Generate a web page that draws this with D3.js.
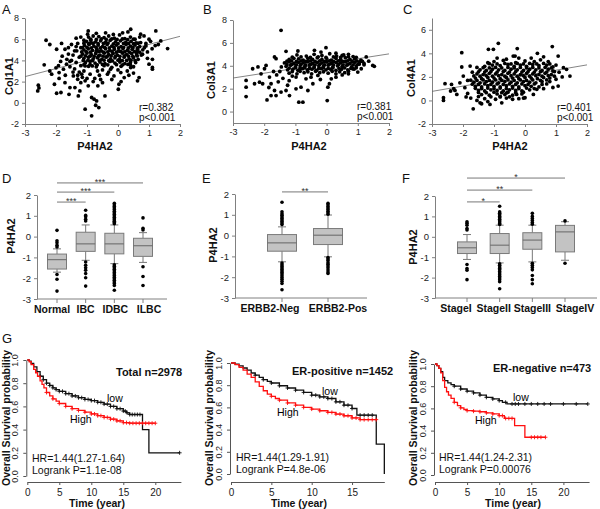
<!DOCTYPE html>
<html><head><meta charset="utf-8">
<script src="https://cdn.jsdelivr.net/npm/d3@7"></script>
<style>body{margin:0;background:#fff}svg{display:block}text{font-family:'Liberation Sans',Arial,Helvetica,sans-serif}</style>
</head><body><script>
// ---------------- DATA ----------------
const scatterXTicks = [-3,-2,-1,0,1,2];
const yTicksA = [-2,0,2,4,6,8];
const yTicksB = [0,2,4,6,8];
const yTicksC = [-2,0,2,4,6];
const fitA = [[-3,2.47],[2,6.27]];
const fitB = [[-3,2.93],[2,5.04]];
const fitC = [[-3,0.77],[2,3.02]];
const statsA = ["r=0.382","p<0.001"];
const statsB = ["r=0.381","p<0.001"];
const statsC = ["r=0.401","p<0.001"];

// Col1A1 vs P4HA2
const pointsA = [
[-2.57,1.66],[-2.59,1.12],[-2.55,1.4],[-2.32,5.9],[-2.2,5.5],[-2.38,3.58],[-2.14,2.7],[-2.05,1.75],[-1.98,0.9],[-1.84,0.97],
[-1.98,5.05],[-1.82,5.6],[-1.71,5.05],[-1.6,4.6],[-1.5,5.5],[-1.33,4.9],[-1.92,3.5],[-1.76,3.17],[-1.66,3.64],[-1.9,2.85],
[-1.71,1.9],[-1.55,1.44],[-1.58,0.8],[-1.39,1.44],[-1.28,0.65],[-1.23,1.12],[-1.44,2.54],[-1.3,2.22],[-1.17,2.7],[-1.06,2.07],
[-0.96,1.6],[-0.85,0.5],[-0.69,0.18],[-0.72,-0.23],[-0.42,0.65],[-1.06,-0.6],[-0.85,-1.23],[0.03,1.75],[0.01,1.28],[0.63,2.07],
[0.68,2.38],[1.22,6.78],[1.6,5.12],[1.38,5.84],[1.11,4.1],[1.11,3.33],[1.0,3.64],[1.11,3.17],[0.41,6.94],[0.32,6.69],
[0.73,6.47],[0.84,6.31],[-0.96,6.78],[-0.98,6.47],[0.73,5.68],[0.9,5.37],[0.63,5.05],[0.79,4.58],[0.57,3.8],[0.41,3.33],
[-0.56,2.2],[-0.34,2.7],[-0.13,2.54],[0.09,2.85],[0.2,2.38],[-0.24,3.17],[-0.66,3.0],[-0.83,3.48],[-1.06,3.48],[-0.62,-0.45],
[-2.0,3.3],[-1.85,3.9],[-1.65,4.1],[-1.55,3.4],[-1.7,2.6],[-1.9,2.3],[-2.2,3.0],[-1.5,4.0],[-1.35,3.8],[-1.25,4.3],
[-1.4,3.2],[-1.2,3.5],[-1.25,2.9],[-1.1,3.0],[-1.45,4.5],[-1.2,5.2],[-1.3,5.6],[-1.1,5.9],[-1.15,2.4],[-0.9,2.7],
[-0.75,2.3],[-0.6,2.6],[-0.5,3.1],[-0.3,2.9],[0.0,3.1],[0.3,3.0],[0.5,3.4],[0.65,4.1],[0.75,4.5],[0.8,5.0],
[0.9,5.6],[1.0,6.0],[0.7,6.2],[0.55,6.0],[0.95,4.2],[1.2,5.4],[1.3,5.5],[-0.77,0.34],
[-1.8,4.4],[-1.6,5.2],[-1.4,4.9],[-1.35,5.3],[-1.55,3.9],[-1.45,2.9],[-1.3,2.6],[-1.2,1.9],[-1.0,2.3],[-0.8,2.0],
[-0.65,1.6],[-0.5,1.9],[-0.2,2.2],[0.1,2.0],[0.35,2.6],[0.5,2.8],[0.4,3.6],[0.6,4.7],[0.85,5.2],[1.05,5.8],
[1.1,5.1],[0.95,4.8],[-1.2,6.2],[-1.35,6.1],[-0.7,6.55],[-0.4,6.6],[-0.15,6.45],[0.15,6.6],
[-0.95,6.2],[-0.8,6.3],[-0.62,6.25],[-0.45,6.15],[-0.3,6.3],[-0.12,6.1],[0.05,6.4],[0.22,6.05],[0.4,6.2],
[-1.02,5.8],[-0.88,5.9],[-0.72,5.75],[-0.56,5.85],[-0.4,5.7],[-0.25,5.9],[-0.08,5.75],[0.08,5.85],[0.25,5.7],[0.42,5.8],[0.58,5.65],
[-1.08,5.4],[-0.93,5.5],[-0.78,5.35],[-0.64,5.45],[-0.5,5.3],[-0.35,5.5],[-0.2,5.35],[-0.05,5.45],[0.1,5.3],[0.26,5.5],[0.4,5.35],[0.55,5.45],[0.7,5.3],
[-1.1,5.0],[-0.96,5.1],[-0.82,4.95],[-0.68,5.05],[-0.54,4.9],[-0.4,5.1],[-0.26,4.95],[-0.12,5.05],[0.02,4.9],[0.16,5.1],[0.3,4.95],[0.46,5.05],[0.62,4.9],
[-1.14,4.6],[-1.0,4.7],[-0.86,4.55],[-0.72,4.65],[-0.58,4.5],[-0.44,4.7],[-0.3,4.55],[-0.16,4.65],[-0.02,4.5],[0.14,4.7],[0.28,4.55],[0.44,4.65],[0.6,4.5],
[-1.1,4.2],[-0.95,4.3],[-0.8,4.15],[-0.66,4.25],[-0.52,4.1],[-0.38,4.3],[-0.24,4.15],[-0.1,4.25],[0.05,4.1],[0.2,4.3],[0.36,4.15],[0.5,4.25],
[-1.05,3.8],[-0.9,3.9],[-0.74,3.75],[-0.58,3.85],[-0.42,3.7],[-0.26,3.9],[-0.1,3.75],[0.06,3.85],[0.22,3.7],[0.4,3.8],
[-0.95,3.45],[-0.7,3.4],[-0.45,3.5],[-0.2,3.35],[0.1,3.45],
[-0.87,5.65],[-0.47,5.6],[-0.15,5.55],[0.18,5.6],[-0.7,4.85],[-0.33,4.8],[0.08,4.85],[-0.9,4.4],[-0.48,4.4],[-0.08,4.4],[0.34,4.4],[-0.6,4.0],[-0.18,3.95],[0.28,4.0],
[-0.88,6.0],[-0.7,5.98],[-0.54,6.02],[-0.38,5.97],[-0.2,6.03],[-0.03,5.98],[0.14,6.02],[0.31,5.96],[0.5,6.0],
[-1.1,5.62],[-0.95,5.58],[-0.8,5.62],[-0.64,5.57],[-0.32,5.63],[0.0,5.58],[0.34,5.6],[0.5,5.57],[0.65,5.62],
[-1.15,5.2],[-1.0,5.22],[-0.86,5.18],[-0.71,5.23],[-0.57,5.17],[-0.43,5.22],[-0.28,5.18],[-0.13,5.23],[0.02,5.17],[0.18,5.22],[0.33,5.18],[0.48,5.22],[0.63,5.17],
[-1.17,4.8],[-1.03,4.82],[-0.89,4.78],[-0.61,4.82],[-0.47,4.78],[-0.19,4.82],[-0.05,4.78],[0.22,4.8],[0.37,4.78],[0.53,4.82],[0.7,4.78],
[-1.2,4.4],[-1.05,4.42],[-0.77,4.38],[-0.63,4.42],[-0.35,4.38],[-0.22,4.42],[0.06,4.38],[0.2,4.42],[0.48,4.38],[0.62,4.42],
[-1.12,4.0],[-0.97,4.02],[-0.82,3.98],[-0.45,4.02],[-0.3,3.98],[0.0,4.02],[0.14,3.98],[0.42,4.02],[0.55,3.98],
[-1.1,3.6],[-0.9,3.62],[-0.67,3.58],[-0.5,3.62],[-0.33,3.58],[-0.05,3.6],[0.15,3.58],[0.32,3.62]
];

// Col3A1 vs P4HA2
const pointsB = [
[-1.46,7.1],[-2.58,2.72],[-2.58,2.13],[-2.58,1.31],[-2.37,3.74],[-2.31,2.43],[-2.15,2.57],[-2.05,2.43],[-1.91,1.02],[-1.78,1.4],
[-1.62,1.4],[-1.67,1.84],[-1.46,1.7],[-1.3,1.84],[-1.19,1.4],[-0.89,0.82],[-0.76,0.82],[0.02,0.96],[-1.78,2.43],[-1.83,3.01],
[-1.99,3.74],[-1.94,4.03],[-1.67,4.77],[-1.62,4.62],[-1.3,5.26],[-0.98,1.99],[-0.82,2.13],[-0.6,1.84],[-0.44,2.43],[0.09,2.43],
[0.04,2.13],[0.15,2.86],[-0.98,3.01],[-0.66,2.86],[-0.28,3.16],[1.48,4.03],[1.53,3.95],[1.27,4.77],[1.0,3.45],[0.84,3.74],
[1.11,3.74],[1.05,4.33],[-0.02,5.58],[-0.92,5.29],[-0.18,5.2],[-0.39,5.35],
[-1.5,3.5],[-1.6,3.2],[-1.4,2.9],[-1.45,3.9],[-1.55,2.6],[-1.2,2.7],[-1.1,3.1],[-1.25,2.3],[-0.5,3.0],[-0.2,2.8],
[0.3,3.0],[0.5,3.2],[0.7,3.3],[-1.7,3.5],[-2.1,3.3],[-2.2,3.9],[-1.85,2.1],[1.2,4.2],[1.35,4.4],[0.7,5.0],[0.3,5.1],[0.5,4.9],
[-0.95,4.95],[-0.65,4.85],[-0.4,5.0],[-0.15,4.9],[0.1,5.05],[0.32,4.85],[0.55,4.95],[0.85,4.8],
[-1.2,4.55],[-1.05,4.65],[-0.9,4.6],[-0.75,4.5],[-0.6,4.65],[-0.45,4.55],[-0.3,4.7],[-0.15,4.55],[0.0,4.65],[0.15,4.5],[0.3,4.65],[0.45,4.55],[0.6,4.7],[0.75,4.55],[0.9,4.6],[1.1,4.5],
[-1.35,4.25],[-1.2,4.35],[-1.05,4.2],[-0.9,4.3],[-0.75,4.25],[-0.6,4.35],[-0.45,4.2],[-0.3,4.3],[-0.15,4.25],[0.0,4.35],[0.15,4.2],[0.3,4.3],[0.45,4.25],[0.6,4.35],[0.75,4.2],[0.9,4.3],[1.05,4.15],
[-1.3,3.95],[-1.15,4.05],[-1.0,3.9],[-0.85,4.0],[-0.7,3.95],[-0.55,4.05],[-0.4,3.9],[-0.25,4.0],[-0.1,3.95],[0.05,4.05],[0.2,3.9],[0.35,4.0],[0.5,3.95],[0.65,4.05],[0.8,3.9],[0.95,4.0],
[-1.25,3.65],[-1.08,3.7],[-0.92,3.6],[-0.77,3.75],[-0.62,3.65],[-0.47,3.7],[-0.32,3.6],[-0.17,3.75],[-0.02,3.65],[0.13,3.7],[0.3,3.6],[0.48,3.7],[0.68,3.65],[0.88,3.7],
[-1.2,3.35],[-0.95,3.3],[-0.72,3.4],[-0.48,3.3],[-0.22,3.4],[0.05,3.35],[0.3,3.3],[0.58,3.4],
[-1.1,4.75],[-0.82,4.77],[-0.52,4.73],[-0.27,4.78],[-0.02,4.74],[0.22,4.77],[0.45,4.73],[0.7,4.78],[0.95,4.74],
[-1.27,4.4],[-1.12,4.42],[-0.97,4.38],[-0.82,4.42],[-0.67,4.38],[-0.52,4.42],[-0.37,4.38],[-0.22,4.42],[-0.07,4.38],[0.08,4.42],[0.22,4.38],[0.37,4.42],[0.52,4.38],[0.67,4.42],[0.82,4.38],[0.97,4.42],[1.15,4.38],
[-1.27,4.1],[-1.12,4.12],[-0.97,4.08],[-0.82,4.12],[-0.67,4.08],[-0.52,4.12],[-0.37,4.08],[-0.22,4.12],[-0.07,4.08],[0.08,4.12],[0.22,4.08],[0.38,4.12],[0.53,4.08],[0.68,4.12],[0.85,4.08],[1.0,4.12],[1.2,4.08],
[-1.2,3.8],[-1.0,3.82],[-0.85,3.78],[-0.7,3.82],[-0.55,3.78],[-0.4,3.82],[-0.25,3.78],[-0.1,3.82],[0.05,3.78],[0.2,3.82],[0.4,3.78],[0.58,3.82],[0.78,3.78],[0.95,3.82],
[-1.1,3.5],[-0.85,3.52],[-0.6,3.48],[-0.35,3.52],[-0.1,3.48],[0.18,3.52],[0.42,3.48],[0.7,3.52]
];

// Col4A1 vs P4HA2
const pointsC = [
[-2.58,1.42],[-2.63,0.23],[-2.37,1.36],[-2.26,0.85],[-2.2,0.51],[-1.94,1.08],[-2.04,4.06],[-2.04,2.84],[-1.77,2.92],[-1.99,2.07],
[-1.67,-0.71],[-1.45,-0.2],[-1.4,-0.28],[-1.13,-0.34],[-1.18,4.34],[-1.02,4.34],[-0.86,4.85],[-0.25,4.4],[-0.38,3.77],[-0.32,3.77],
[0.88,4.57],[1.07,3.77],[1.34,2.64],[1.45,2.07],[1.07,1.22],[1.24,2.78],[0.27,0.51],[0.0,0.23],[0.38,0.94],[-0.27,0.51],[-0.59,0.65],
[-2.63,0.0],[-2.4,0.8],[-2.1,1.5],[-1.85,1.7],[-1.85,0.6],[-1.75,0.2],[-1.7,2.4],[-1.9,0.3],[-2.3,1.0],[-1.55,2.8],
[-1.55,0.0],[-1.2,-0.1],[-0.8,0.3],[-0.75,-0.2],[-0.4,0.1],[0.6,1.0],[0.7,1.4],[0.8,1.6],[1.0,1.8],[1.1,2.4],
[1.2,2.0],[0.9,2.5],[1.0,3.0],[0.75,3.3],[0.6,3.7],[0.2,3.6],[-0.2,3.6],[-0.6,3.5],[-1.2,3.2],[-0.9,3.6],[0.4,4.0],[0.9,1.1],[-0.05,0.2],
[-1.0,3.3],[-0.7,3.4],[-0.3,3.2],[0.0,3.35],[0.3,3.3],[0.5,3.45],
[-1.3,2.9],[-1.05,3.0],[-0.8,2.95],[-0.55,3.05],[-0.35,2.9],[-0.15,3.0],[0.05,2.9],[0.25,3.05],[0.45,2.95],[0.7,3.0],[0.9,2.85],
[-1.45,2.6],[-1.25,2.55],[-1.05,2.65],[-0.85,2.6],[-0.65,2.55],[-0.45,2.65],[-0.25,2.6],[-0.05,2.55],[0.15,2.65],[0.35,2.6],[0.55,2.55],[0.75,2.65],
[-1.55,2.25],[-1.35,2.2],[-1.15,2.3],[-0.95,2.25],[-0.75,2.2],[-0.55,2.3],[-0.35,2.25],[-0.15,2.2],[0.05,2.3],[0.25,2.25],[0.45,2.2],[0.65,2.3],[0.85,2.2],
[-1.6,1.9],[-1.4,1.85],[-1.2,1.95],[-1.0,1.9],[-0.8,1.85],[-0.6,1.95],[-0.4,1.9],[-0.2,1.85],[0.0,1.95],[0.2,1.9],[0.4,1.85],[0.6,1.95],[0.8,1.9],
[-1.65,1.55],[-1.45,1.5],[-1.25,1.6],[-1.05,1.55],[-0.85,1.5],[-0.65,1.6],[-0.45,1.55],[-0.25,1.5],[-0.05,1.6],[0.15,1.55],[0.35,1.5],[0.55,1.6],
[-1.6,1.2],[-1.4,1.15],[-1.2,1.25],[-1.0,1.2],[-0.8,1.15],[-0.6,1.25],[-0.4,1.2],[-0.2,1.15],[0.0,1.25],[0.2,1.2],[0.45,1.15],
[-1.5,0.85],[-1.3,0.8],[-1.1,0.9],[-0.9,0.85],[-0.7,0.8],[-0.5,0.9],[-0.3,0.85],[-0.1,0.8],[0.15,0.9],
[-1.4,0.5],[-1.15,0.45],[-0.9,0.55],[-0.65,0.5],[-0.4,0.45],[-0.1,0.55],
[-1.3,0.15],[-0.95,0.1],[-0.6,0.2],[-0.2,0.15],
[-1.15,3.12],[-0.9,3.1],[-0.65,3.14],[-0.45,3.1],[-0.25,3.14],[-0.05,3.1],[0.15,3.14],[0.38,3.1],[0.6,3.14],[0.8,3.1],
[-1.35,2.78],[-1.15,2.76],[-0.95,2.8],[-0.75,2.76],[-0.55,2.8],[-0.35,2.76],[-0.15,2.8],[0.05,2.76],[0.25,2.8],[0.45,2.76],[0.65,2.8],[0.85,2.76],
[-1.5,2.43],[-1.3,2.41],[-1.1,2.45],[-0.9,2.41],[-0.7,2.45],[-0.5,2.41],[-0.3,2.45],[-0.1,2.41],[0.1,2.45],[0.3,2.41],[0.5,2.45],[0.7,2.41],[0.95,2.45],
[-1.65,2.08],[-1.45,2.06],[-1.25,2.1],[-1.05,2.06],[-0.85,2.1],[-0.65,2.06],[-0.45,2.1],[-0.25,2.06],[-0.05,2.1],[0.15,2.06],[0.35,2.1],[0.55,2.06],[0.75,2.1],[0.95,2.06],
[-1.75,1.72],[-1.55,1.7],[-1.35,1.74],[-1.15,1.7],[-0.95,1.74],[-0.75,1.7],[-0.55,1.74],[-0.35,1.7],[-0.15,1.74],[0.05,1.7],[0.25,1.74],[0.5,1.7],[0.7,1.74],
[-1.7,1.38],[-1.5,1.36],[-1.3,1.4],[-1.1,1.36],[-0.9,1.4],[-0.7,1.36],[-0.5,1.4],[-0.3,1.36],[-0.1,1.4],[0.1,1.36],[0.3,1.4],[0.55,1.36],
[-1.6,1.03],[-1.4,1.01],[-1.2,1.05],[-1.0,1.01],[-0.8,1.05],[-0.6,1.01],[-0.4,1.05],[-0.2,1.01],[0.05,1.05],[0.3,1.01],
[-1.5,0.68],[-1.25,0.66],[-1.0,0.7],[-0.75,0.66],[-0.55,0.7],[-0.3,0.66],[-0.05,0.7],
[-1.5,0.33],[-1.1,0.31],[-0.8,0.35],[-0.5,0.31]
];

// Box plots: [lowerWhisker, Q1, median, Q3, upperWhisker]
const boxYTicks = [-3,-2,-1,0,1,2];
const catsD = ["Normal","IBC","IDBC","ILBC"];
const boxStatsD = [[-1.71,-1.56,-1.11,-0.84,-0.59],[-1.14,-0.71,-0.35,0.21,0.56],[-1.3,-0.83,-0.35,0.16,0.56],[-1.24,-0.95,-0.44,-0.08,0.19]];
const outliersD = [
 [0.3,-0.2,-0.3,-0.42,-0.5,-1.82,-2.05,-2.62],
 [1.27,1.02,0.95,0.83,0.75,-1.22,-1.38,-1.5,-1.62,-1.78,-1.98,-2.38],
 [1.6,1.52,1.45,1.38,1.3,1.22,1.15,1.08,1.0,0.93,0.86,0.8,0.74,0.68,0.62,-1.35,-1.42,-1.5,-1.57,-1.64,-1.72,-1.8,-1.87,-1.95,-2.03,-2.1,-2.18,-2.25,-2.35,-2.58],
 [0.9,0.4,0.32,-1.45,-1.92,-2.35]];
const sigD = [["Normal","IBC",1.66,"***"],["Normal","IDBC",2.14,"***"],["Normal","ILBC",2.58,"***"]];

const catsE = ["ERBB2-Neg","ERBB2-Pos"];
const boxStatsE = [[-1.26,-0.75,-0.35,0.05,0.42],[-1.02,-0.43,0.02,0.34,0.99]];
const outliersE = [
 [1.6,1.15,1.05,0.98,0.9,0.82,0.75,0.68,0.6,0.53,-1.32,-1.4,-1.48,-1.56,-1.63,-1.7,-1.78,-1.85,-1.93,-2.02,-2.1,-2.2,-2.3,-2.6],
 [1.55,1.48,1.4,1.33,1.25,1.17,1.1,1.03,-1.05,-1.12,-1.2,-1.3,-1.38,-1.46,-1.55,-1.65,-1.75,-1.82]];
const sigE = [["ERBB2-Neg","ERBB2-Pos",2.1,"**"]];

const catsF = ["StageI","StageII","StageIII","StageIV"];
const boxStatsF = [[-1.11,-0.82,-0.54,-0.25,0.11],[-1.28,-0.82,-0.41,0.16,0.57],[-1.23,-0.61,-0.16,0.2,0.57],[-1.15,-0.74,0.24,0.56,0.74]];
const outliersF = [
 [0.74,0.66,0.57,0.41,0.33,-1.36,-1.56,-1.64,-2.1],
 [1.5,1.22,1.15,1.08,1.0,0.93,0.86,0.79,0.72,0.65,0.6,-1.32,-1.4,-1.48,-1.55,-1.62,-1.7,-1.78,-1.86,-1.94,-2.02,-2.1,-2.2,-2.55],
 [1.15,1.0,0.9,0.8,0.7,0.62,-1.3,-1.4,-1.5,-1.62,-1.9,-2.1,-2.3],
 [0.78,-1.3]];
const sigF = [["StageI","StageII",1.71,"*"],["StageI","StageIII",2.29,"**"],["StageI","StageIV",2.88,"*"]];

// Kaplan-Meier curves: [time (year), survival probability]
const kmYTicks = [0,0.2,0.4,0.6,0.8,1.0];
const kmTotalLow = [[0,1],[0.3,0.99],[0.6,0.97],[1,0.94],[1.5,0.9],[2,0.86],[2.5,0.83],[3,0.8],[3.5,0.78],[4,0.76],[4.5,0.745],[5,0.73],[6,0.71],[7,0.69],[8,0.675],[9,0.66],[10,0.65],[11,0.635],[12,0.62],[13,0.6],[14,0.58],[15,0.56],[15.5,0.545],[16,0.53],[18,0.4],[19,0.2],[23.8,0.2]];
const kmTotalHigh = [[0,1],[0.3,0.985],[0.6,0.96],[1,0.92],[1.3,0.89],[1.6,0.86],[2,0.82],[2.3,0.79],[2.6,0.76],[3,0.72],[3.5,0.69],[4,0.665],[4.5,0.645],[5,0.625],[6,0.6],[7,0.58],[8,0.565],[9,0.55],[10,0.535],[11,0.52],[12,0.505],[13,0.49],[14,0.475],[15,0.46],[16,0.455],[20,0.455]];
const kmTotalLowCens = [2,2.5,3,3.5,4,4.5,5,5.5,6,6.5,7,7.5,8,8.5,9,9.5,10,10.5,11,11.5,12,12.5,13,13.5,14,14.5,15,15.3,15.6,16,16.4,16.8,17.2,17.6,23.8];
const kmTotalHighCens = [3,4,5,6,7,8,9,10,10.5,11,11.5,12,12.5,13,13.5,14,14.5,15,15.5,16,16.5,17,17.5,18,18.5,19,19.5,20];
const kmERposLow = [[0,1],[0.5,0.99],[1,0.975],[1.5,0.955],[2,0.935],[2.5,0.91],[3,0.89],[3.5,0.87],[4,0.85],[4.5,0.835],[5,0.82],[6,0.795],[7,0.775],[8,0.755],[9,0.735],[10,0.71],[11,0.695],[12,0.68],[13,0.65],[14,0.62],[15,0.59],[15.6,0.53],[18,0.27],[19,0]];
const kmERposHigh = [[0,1],[0.5,0.985],[1,0.96],[1.5,0.935],[2,0.9],[2.5,0.87],[3,0.83],[3.5,0.79],[4,0.75],[4.5,0.72],[5,0.7],[5.5,0.68],[6,0.665],[7,0.64],[8,0.62],[9,0.6],[10,0.585],[11,0.57],[12,0.555],[13,0.54],[14,0.525],[15,0.505],[16,0.49],[18,0.49]];
const kmERposLowCens = [3,4,5,6,7,8,9,10,10.5,11,11.5,12,12.5,13,13.5,14,14.5,15,16,16.5,17,17.5];
const kmERposHighCens = [5,6,7,8,9,10,11,12,12.5,13,13.5,14,14.5,15,15.5,16,16.5,17,17.5,18];
const kmERnegLow = [[0,1],[0.3,0.985],[0.6,0.96],[0.9,0.93],[1.2,0.88],[1.5,0.85],[2,0.83],[2.5,0.815],[3,0.8],[4,0.775],[5,0.755],[6,0.74],[7,0.72],[8,0.7],[9,0.685],[10,0.67],[10.5,0.655],[11.2,0.64],[23.8,0.64]];
const kmERnegHigh = [[0,1],[0.3,0.985],[0.6,0.96],[0.9,0.92],[1.2,0.85],[1.5,0.79],[1.8,0.75],[2.1,0.72],[2.5,0.69],[3,0.655],[3.5,0.625],[4,0.605],[4.5,0.59],[5,0.58],[6,0.575],[7,0.57],[8,0.56],[9,0.55],[10,0.535],[10.8,0.51],[12.4,0.445],[14,0.34],[17.2,0.34]];
const kmERnegLowCens = [3,4,5,6,7,8,9,10,11,12,12.5,13,14,15,16,17,18,20,22,23.8];
const kmERnegHighCens = [3,4,5,6,7,8,9,10,10.5,11,11.5,12,15,15.5,16,16.5,17.2];

// ---------------- DRAWING ----------------
const svg = d3.select("body").append("svg").attr("width",600).attr("height",509);
const AX = "#808080";
function txt(x,y,s,o={}) {
  const t = svg.append("text").attr("x",x).attr("y",y).text(s)
    .attr("font-size", o.size||10).attr("font-weight", o.bold?"bold":"normal")
    .attr("text-anchor", o.anchor||"start").attr("fill", o.fill||"#111");
  if (o.rotate) t.attr("transform",`rotate(-90,${x},${y})`);
  return t;
}
function styleAxis(a, col, fs) {
  a.selectAll("path,line").attr("stroke", col||AX).attr("stroke-width",1);
  a.selectAll("text").attr("font-size", fs||9).attr("fill","#222").attr("font-family","'Liberation Sans',Arial,sans-serif");
}

function scatter(c) {
  const x = d3.scaleLinear().domain([-3,2]).range(c.xr);
  const y = d3.scaleLinear().domain(c.yd).range(c.yr);
  const g = svg.append("g");
  const xa = g.append("g").attr("transform",`translate(0,${c.yr[0]})`)
    .call(d3.axisBottom(x).tickValues(scatterXTicks).tickFormat(d=>String(d)).tickSize(3).tickSizeOuter(0).tickPadding(3));
  const ya = g.append("g").attr("transform",`translate(${c.xr[0]},0)`)
    .call(d3.axisLeft(y).tickValues(c.yticks).tickFormat(d=>String(d)).tickSize(3).tickSizeOuter(0).tickPadding(3));
  styleAxis(xa); styleAxis(ya);
  g.append("line").attr("x1",x(c.fit[0][0])).attr("y1",y(c.fit[0][1])).attr("x2",x(c.fit[1][0])).attr("y2",y(c.fit[1][1]))
    .attr("stroke","#666").attr("stroke-width",0.8);
  g.selectAll("circle").data(c.pts).join("circle").attr("cx",d=>x(d[0])).attr("cy",d=>y(d[1])).attr("r",1.9).attr("fill","#000");
  txt(c.statX, c.yr[0]-13, c.stats[0], {size:10});
  txt(c.statX, c.yr[0]-3, c.stats[1], {size:10});
  txt(c.xlab[0], c.xlab[1], "P4HA2", {size:11, bold:true, anchor:"middle"});
  txt(c.ylab[0], c.ylab[1], c.ytitle, {size:11, bold:true, anchor:"middle", rotate:true});
  txt(c.letter[0], c.letter[1], c.letterText, {size:13});
}

scatter({xr:[25,180], yd:[-2,8], yr:[124,18], yticks:yTicksA, fit:fitA, pts:pointsA, stats:statsA, statX:139,
  xlab:[95,150], ylab:[12.5,76], ytitle:"Col1A1", letter:[2,14], letterText:"A"});
scatter({xr:[233,389], yd:[-1,8], yr:[123,20], yticks:yTicksB, fit:fitB, pts:pointsB, stats:statsB, statX:357,
  xlab:[309,150], ylab:[214.5,80], ytitle:"Col3A1", letter:[203,14], letterText:"B"});
scatter({xr:[432,587], yd:[-2,7], yr:[124,18], yticks:yTicksC, fit:fitC, pts:pointsC, stats:statsC, statX:557,
  xlab:[510,150], ylab:[414.5,78], ytitle:"Col4A1", letter:[403,14], letterText:"C"});

function boxes(c) {
  const x = d3.scalePoint().domain(c.cats).range(c.xr);
  const y = d3.scaleLinear().domain([-3,2]).range(c.yr);
  const g = svg.append("g");
  const ya = g.append("g").attr("transform",`translate(${c.axisX},0)`)
    .call(d3.axisLeft(y).tickValues(boxYTicks).tickFormat(d=>String(d)).tickSize(3).tickSizeOuter(0).tickPadding(3));
  styleAxis(ya, AX, 9.5);
  g.append("line").attr("x1",c.axisX).attr("x2",c.axisEnd).attr("y1",y(-3)).attr("y2",y(-3)).attr("stroke",AX);
  c.cats.forEach((cat,i)=>{
    const s = c.stats[i], cx = x(cat), w = c.bw;
    g.append("line").attr("x1",cx).attr("x2",cx).attr("y1",y(-3)).attr("y2",y(-3)+4).attr("stroke",AX);
    g.append("line").attr("x1",cx).attr("x2",cx).attr("y1",y(s[0])).attr("y2",y(s[1])).attr("stroke","#777");
    g.append("line").attr("x1",cx).attr("x2",cx).attr("y1",y(s[3])).attr("y2",y(s[4])).attr("stroke","#777");
    g.append("line").attr("x1",cx-4).attr("x2",cx+4).attr("y1",y(s[0])).attr("y2",y(s[0])).attr("stroke","#777");
    g.append("line").attr("x1",cx-4).attr("x2",cx+4).attr("y1",y(s[4])).attr("y2",y(s[4])).attr("stroke","#777");
    g.append("rect").attr("x",cx-w/2).attr("width",w).attr("y",y(s[3])).attr("height",y(s[1])-y(s[3]))
      .attr("fill","#c3c3c3").attr("stroke","#7a7a7a").attr("stroke-width",1);
    g.append("line").attr("x1",cx-w/2).attr("x2",cx+w/2).attr("y1",y(s[2])).attr("y2",y(s[2])).attr("stroke","#666").attr("stroke-width",1);
    g.selectAll(null).data(c.out[i]).join("circle").attr("cx",cx).attr("cy",d=>y(d)).attr("r",1.8).attr("fill","#000");
    txt(cx + c.labDx[i], c.labY, cat, {size:10.5, bold:true, anchor:"middle"});
  });
  c.sig.forEach(s=>{
    const x1 = x(s[0]), x2 = x(s[1]), yy = y(s[2]);
    g.append("line").attr("x1",x1).attr("x2",x2).attr("y1",yy).attr("y2",yy).attr("stroke","#555").attr("stroke-width",0.8);
    txt((x1+x2)/2, yy+2, s[3], {size:9, anchor:"middle", fill:"#333"});
  });
  txt(c.ylab[0], c.ylab[1], "P4HA2", {size:11, bold:true, anchor:"middle", rotate:true});
  txt(c.letter[0], c.letter[1], c.letterText, {size:13});
}

boxes({cats:catsD, stats:boxStatsD, out:outliersD, sig:sigD, xr:[57,143], yr:[299,195], axisX:37, axisEnd:167, bw:19,
  labY:313, labDx:[-5,0,1,6], ylab:[15,236], letter:[2,183], letterText:"D"});
boxes({cats:catsE, stats:boxStatsE, out:outliersE, sig:sigE, xr:[282,328], yr:[298,194], axisX:235, axisEnd:367, bw:29,
  labY:312, labDx:[-12,10], ylab:[216.5,245], letter:[202,183], letterText:"E"});
boxes({cats:catsF, stats:boxStatsF, out:outliersF, sig:sigF, xr:[467,565], yr:[298,196], axisX:435, axisEnd:597, bw:19,
  labY:312, labDx:[-11,-6,0,10], ylab:[416.5,247], letter:[402,183], letterText:"F"});

function km(c) {
  const x = d3.scaleLinear().domain([0, c.xmax]).range([c.x0, c.x0 + c.xmax*c.ppy]);
  const y = d3.scaleLinear().domain([0,1]).range(c.yr);
  const g = svg.append("g");
  const ya = g.append("g").attr("transform",`translate(${c.x0-1},0)`)
    .call(d3.axisLeft(y).tickValues(kmYTicks).tickFormat(d3.format(".1f")).tickSize(3).tickSizeOuter(0));
  styleAxis(ya, "#555", 9);
  ya.selectAll("text").attr("x",null).attr("dy",null).attr("text-anchor","middle").attr("transform","translate(-8,0) rotate(-90)");
  const xa = g.append("g").attr("transform",`translate(0,482)`)
    .call(d3.axisBottom(x).tickValues(c.xticks).tickFormat(d=>String(d)).tickSize(3).tickSizeOuter(0).tickPadding(4));
  styleAxis(xa, "#555", 10);
  const line = d3.line().x(d=>x(d[0])).y(d=>y(d[1])).curve(d3.curveStepAfter);
  const surv = (curve,t) => { let s = 1; curve.forEach(d=>{ if (d[0] <= t) s = d[1]; }); return s; };
  [[c.low, c.lowCens, "#111"],[c.high, c.highCens, "#ff1010"]].forEach(([cv, cens, col])=>{
    g.append("path").attr("d", line(cv)).attr("fill","none").attr("stroke",col).attr("stroke-width",1.3);
    g.selectAll(null).data(cens).join("path")
      .attr("d", t => { const px = x(t), py = y(surv(cv,t)); return `M${px-2},${py}h4M${px},${py-2}v4`; })
      .attr("stroke",col).attr("stroke-width",0.9);
  });
  txt(c.title[0], c.title[1], c.titleText, {size:11, bold:true});
  txt(c.lowLab[0], c.lowLab[1], "low", {size:10.5, fill:"#000"});
  txt(c.highLab[0], c.highLab[1], "High", {size:10.5, fill:"#000"});
  txt(c.hr[0], c.hr[1], c.hrText, {size:10.5});
  txt(c.hr[0], c.hr[1]+12, c.lrText, {size:10.5});
  txt(c.xlabX, 507, "Time (year)", {size:10.5, bold:true, anchor:"middle"});
  txt(c.ylabX, 418, "Overall Survival probability", {size:10.5, bold:true, anchor:"middle", rotate:true});
}

km({x0:27.3, ppy:6.4, xmax:24, xticks:[0,5,10,15,20], yr:[476,360], low:kmTotalLow, high:kmTotalHigh,
  lowCens:kmTotalLowCens, highCens:kmTotalHighCens, title:[116,376], titleText:"Total  n=2978",
  lowLab:[107,402], highLab:[70,423], hr:[32,462], hrText:"HR=1.44(1.27-1.64)", lrText:"Logrank P=1.1e-08", xlabX:97, ylabX:10});
km({x0:231, ppy:8.07, xmax:19, xticks:[0,5,10,15], yr:[474,363], low:kmERposLow, high:kmERposHigh,
  lowCens:kmERposLowCens, highCens:kmERposHighCens, title:[292,375], titleText:"ER-positive  n=1452",
  lowLab:[322,395], highLab:[277,416], hr:[236,461], hrText:"HR=1.44(1.29-1.91)", lrText:"Logrank P=4.8e-06", xlabX:299, ylabX:213});
km({x0:435, ppy:6.42, xmax:24, xticks:[0,5,10,15,20], yr:[475,364], low:kmERnegLow, high:kmERnegHigh,
  lowCens:kmERnegLowCens, highCens:kmERnegHighCens, title:[493,372], titleText:"ER-negative  n=473",
  lowLab:[513,401], highLab:[475,424], hr:[439,461], hrText:"HR=1.44(1.24-2.31)", lrText:"Logrank P=0.00076", xlabX:513, ylabX:417});
txt(2, 343, "G", {size:13});
</script></body></html>
